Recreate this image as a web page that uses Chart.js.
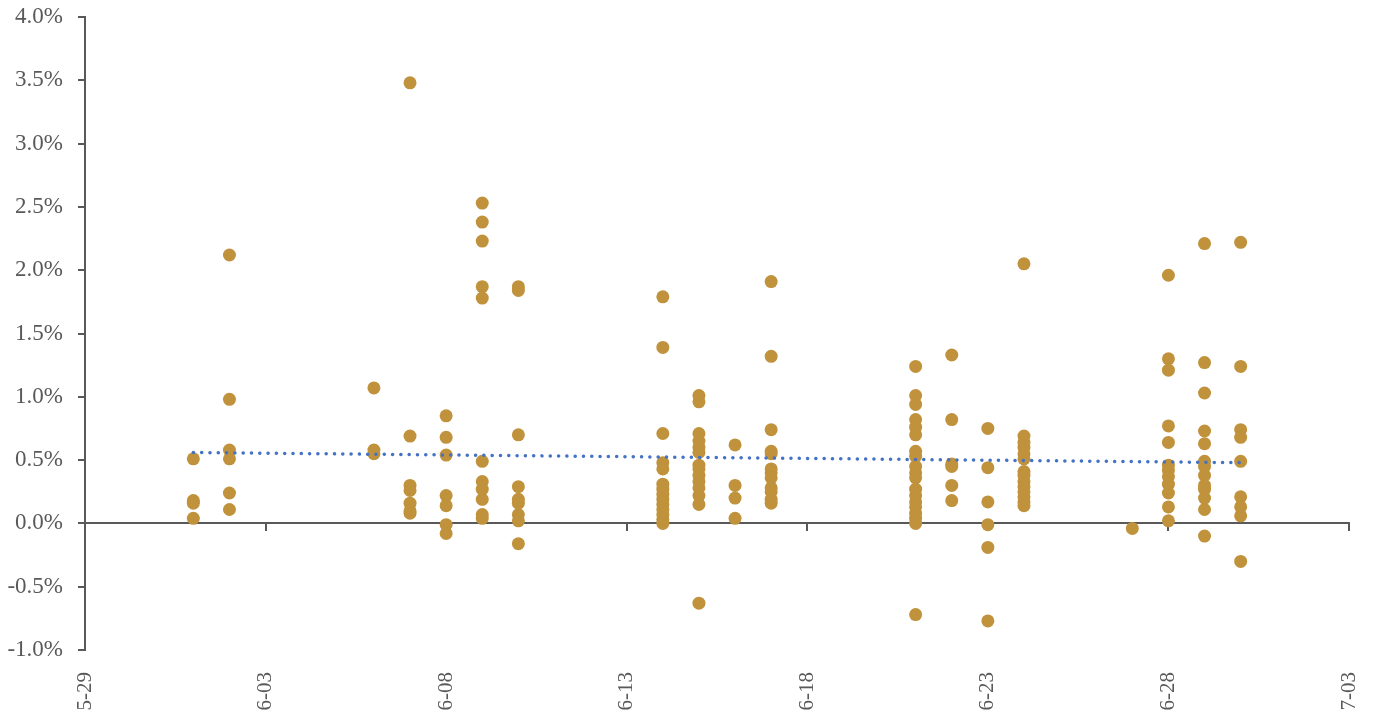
<!DOCTYPE html>
<html>
<head>
<meta charset="utf-8">
<script src="https://cdn.jsdelivr.net/npm/chart.js@4"></script>
<style>
  html, body { margin: 0; padding: 0; background: #ffffff; }
  #wrap { width: 1377px; height: 713px; position: relative; }
</style>
</head>
<body>
<div id="wrap"><canvas id="c"></canvas></div>
<script>
// ---- data (daily returns, %) ----
const baseDate = '5-29';
const dates = ['6-01','6-02','6-06','6-07','6-08','6-09','6-10','6-14','6-15','6-16','6-17','6-21','6-22','6-23','6-24','6-27','6-28','6-29','6-30'];
const values = [
  [0.51, 0.18, 0.16, 0.04],
  [2.12, 0.98, 0.58, 0.51, 0.24, 0.11],
  [1.07, 0.58, 0.55],
  [3.48, 0.69, 0.30, 0.26, 0.16, 0.10, 0.08],
  [0.85, 0.68, 0.54, 0.22, 0.14, -0.01, -0.08],
  [2.53, 2.38, 2.23, 1.87, 1.78, 0.49, 0.33, 0.27, 0.19, 0.07, 0.04],
  [1.87, 1.84, 0.70, 0.29, 0.19, 0.16, 0.07, 0.02, -0.16],
  [1.79, 1.39, 0.71, 0.48, 0.43, 0.31, 0.27, 0.23, 0.19, 0.15, 0.11, 0.07, 0.03, 0.00],
  [1.01, 0.96, 0.71, 0.65, 0.60, 0.56, 0.46, 0.43, 0.38, 0.33, 0.28, 0.22, 0.15, -0.63],
  [0.62, 0.30, 0.20, 0.04],
  [1.91, 1.32, 0.74, 0.57, 0.55, 0.43, 0.40, 0.36, 0.28, 0.25, 0.19, 0.16],
  [1.24, 1.01, 0.94, 0.82, 0.76, 0.70, 0.57, 0.53, 0.45, 0.40, 0.36, 0.27, 0.22, 0.17, 0.13, 0.08, 0.04, 0.00, -0.72],
  [1.33, 0.82, 0.47, 0.45, 0.30, 0.18],
  [0.75, 0.44, 0.17, -0.01, -0.19, -0.77],
  [2.05, 0.69, 0.64, 0.60, 0.55, 0.51, 0.41, 0.38, 0.33, 0.29, 0.25, 0.21, 0.17, 0.14],
  [-0.04],
  [1.96, 1.30, 1.21, 0.77, 0.64, 0.46, 0.42, 0.37, 0.31, 0.24, 0.13, 0.02],
  [2.21, 1.27, 1.03, 0.73, 0.63, 0.49, 0.45, 0.38, 0.30, 0.27, 0.20, 0.11, -0.10],
  [2.22, 1.24, 0.74, 0.68, 0.49, 0.21, 0.13, 0.06, -0.30]
];
// linear trend line end points (as drawn in the reference)
const trendDates = ['6-01', '6-30'];
const trendValues = [0.56, 0.48];
const xTickLabels = ['5-29','6-03','6-08','6-13','6-18','6-23','6-28','7-03'];
const yTickValues = [-1.0, -0.5, 0.0, 0.5, 1.0, 1.5, 2.0, 2.5, 3.0, 3.5, 4.0];

// ---- helpers ----
function dayOffset(md) {
  const [m, d] = md.split('-').map(Number);
  const [bm, bd] = baseDate.split('-').map(Number);
  return Math.round((Date.UTC(2000, m - 1, d) - Date.UTC(2000, bm - 1, bd)) / 86400000);
}
const scatterPoints = [];
dates.forEach((dt, i) => values[i].forEach(v => scatterPoints.push({ x: dayOffset(dt), y: v })));
const trendPoints = trendDates.map((dt, i) => ({ x: dayOffset(dt), y: trendValues[i] }));

const xMin = dayOffset(xTickLabels[0]);
const xMax = dayOffset(xTickLabels[xTickLabels.length - 1]);
const axisColor = '#595959';
const family = "'Liberation Serif', 'Times New Roman', serif";

function noPadX(s) { s.paddingLeft = 0; s.paddingRight = 0; }
function noPadY(s) { s.paddingTop = 0; s.paddingBottom = 0; }

new Chart(document.getElementById('c'), {
  type: 'scatter',
  data: {
    datasets: [
      {
        type: 'line',
        data: trendPoints,
        borderColor: '#4472C4',
        borderWidth: 3.5,
        borderDash: [0.1, 8.2],
        borderCapStyle: 'round',
        pointRadius: 0,
        fill: false,
        order: 0
      },
      {
        data: scatterPoints,
        backgroundColor: '#C0923C',
        borderWidth: 0,
        pointRadius: 6.5,
        pointHoverRadius: 6.5,
        order: 1
      }
    ]
  },
  options: {
    responsive: true,
    maintainAspectRatio: false,
    animation: false,
    events: [],
    layout: { padding: { top: 17, right: 28, bottom: 0, left: 0 } },
    plugins: { legend: { display: false }, tooltip: { enabled: false } },
    scales: {
      x: {
        type: 'linear',
        position: 'bottom',
        min: xMin, max: xMax,
        afterBuildTicks: s => { s.ticks = xTickLabels.map(l => ({ value: dayOffset(l) })); },
        ticks: {
          callback: (v, i) => xTickLabels[i],
          minRotation: 90, maxRotation: 90,
          padding: 14,
          color: axisColor,
          font: { family: family, size: 21 }
        },
        grid: { display: false },
        border: { display: false },
        afterFit: s => { s.height = 63; noPadX(s); }
      },
      x0: {
        type: 'linear',
        position: { y: 0 },
        min: xMin, max: xMax,
        afterBuildTicks: s => { s.ticks = xTickLabels.map(l => ({ value: dayOffset(l) })); },
        ticks: { display: false },
        grid: { drawOnChartArea: false, drawTicks: true, tickLength: 7, color: axisColor, lineWidth: 2 },
        border: { display: true, color: axisColor, width: 2 },
        afterFit: s => { noPadX(s); }
      },
      y: {
        type: 'linear',
        min: -1, max: 4,
        afterBuildTicks: s => { s.ticks = yTickValues.map(v => ({ value: v })); },
        ticks: {
          callback: v => v.toFixed(1) + '%',
          padding: 15,
          color: axisColor,
          font: { family: family, size: 23 }
        },
        grid: { drawOnChartArea: false, drawTicks: true, tickLength: 7, color: axisColor, lineWidth: 2 },
        border: { display: true, color: axisColor, width: 2 },
        afterFit: s => { s.width = 85; noPadY(s); }
      }
    }
  }
});
</script>
</body>
</html>
